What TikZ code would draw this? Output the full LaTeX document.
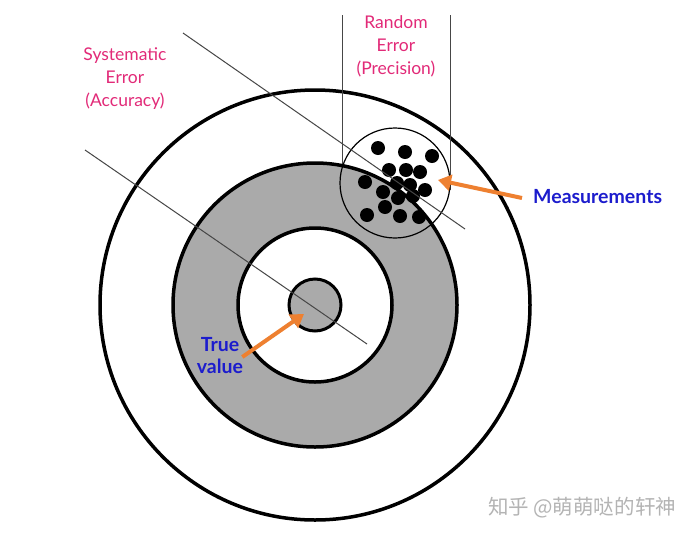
\documentclass[tikz,border=0pt]{standalone}
\usepackage{fontspec}
\setmainfont{Lato}
\newfontfamily\cjk{Noto Sans CJK SC}
\usetikzlibrary{arrows.meta}
\definecolor{pinktext}{RGB}{226,42,120}
\definecolor{bluetext}{RGB}{28,28,205}
\definecolor{ringgray}{RGB}{170,170,170}
\definecolor{arroworange}{RGB}{238,128,48}
\definecolor{wmgray}{RGB}{180,180,180}
\definecolor{linegray}{RGB}{70,70,70}
\tikzset{
  ring/.style={draw=black, line width=3.5pt},
  guide/.style={draw=linegray, line width=1pt},
  dot/.style={fill=black},
  pinklabel/.style={text=pinktext, align=center, font=\fontsize{17.5}{23}\selectfont, inner sep=0pt},
  bluelabel/.style={text=bluetext, align=center, font=\bfseries\fontsize{19.5}{22}\selectfont, inner sep=0pt},
  orangearrow/.style={draw=arroworange, line width=4pt, -{Triangle[length=13pt,width=16pt]}}
}
\begin{document}
\begin{tikzpicture}[x=1pt,y=-1pt]
\useasboundingbox (0,0) rectangle (693,536);
\fill[white] (0,0) rectangle (693,536);
\coordinate (C) at (315,305);
\coordinate (M) at (395,183);
% outer target
\draw[ring, fill=white] (C) circle (215pt);
% precision guides
\draw[guide] (342,15) -- (342,183);
\draw[guide] (450,15) -- (450,190);
\draw[ring, fill=ringgray] (C) circle (142pt);
\draw[ring, fill=white] (C) circle (77pt);
\draw[draw=black, line width=3pt, fill=ringgray] (C) circle (26pt);
% measurement cluster
\draw[draw=black, line width=1.2pt] (M) circle (55pt);
\foreach \p in {(378,148),(405,152),(432,156),(389,170),(406,170),(420,172),(365,182),(397,183),(410,185),(425,190),(383,192),(398,198),(413,196),(385,207),(367,215),(400,216),(419,217)}
  \fill[dot] \p circle (7pt);
% accuracy guides
\draw[guide] (183,33) -- (465,229);
\draw[guide] (85,150) -- (367,344);
% labels
\node[pinklabel] (sys) at (125,79) {Systematic\\Error\\(Accuracy)};
\node[pinklabel] (rand) at (396,46) {Random\\Error\\(Precision)};
\node[bluelabel, anchor=west] (meas) at (533,197) {Measurements};
\node[bluelabel] (true) at (220,356) {True\\value};
\coordinate (mtip) at (438,180);
\coordinate (ttip) at (304,314);
\draw[orangearrow] ([xshift=-11pt,yshift=-1pt]meas.west) -- (mtip);
\draw[orangearrow] ([xshift=-1pt,yshift=-1pt]true.east) -- (ttip);
\node[text=wmgray, font=\cjk\fontsize{20.5}{20.5}\selectfont, inner sep=0pt] (wm) at (582,508) {知乎 @萌萌哒的轩神};
\end{tikzpicture}
\end{document}
